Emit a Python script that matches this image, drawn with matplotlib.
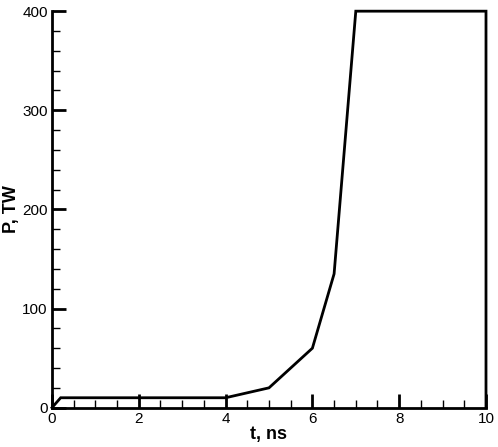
import matplotlib
matplotlib.use('Agg')
import matplotlib.pyplot as plt
from matplotlib.ticker import MultipleLocator

t_ns = [0.0, 0.2, 4.0, 5.0, 6.0, 6.5, 7.0, 10.0, 10.0]
p_tw = [0.0, 10.0, 10.0, 20.0, 60.0, 135.0, 400.0, 400.0, 0.0]

plt.rcParams['font.family'] = ['Liberation Sans', 'DejaVu Sans']

fig = plt.figure(figsize=(4.98, 4.47), dpi=100)
ax = fig.add_axes([0.1044, 0.088, 0.8715, 0.887])

ax.plot(t_ns, p_tw, color='black', linewidth=2, solid_joinstyle='miter', clip_on=False)

ax.set_xlim(0, 10)
ax.set_ylim(0, 400)
ax.xaxis.set_major_locator(MultipleLocator(2))
ax.xaxis.set_minor_locator(MultipleLocator(0.5))
ax.yaxis.set_major_locator(MultipleLocator(100))
ax.yaxis.set_minor_locator(MultipleLocator(20))

for side in ('top', 'right'):
    ax.spines[side].set_visible(False)
for side in ('left', 'bottom'):
    ax.spines[side].set_linewidth(2)

ax.tick_params(which='major', direction='in', length=10, width=2, labelsize=11, pad=3)
ax.tick_params(which='minor', direction='in', length=6, width=1)

ax.set_xlabel('t, ns', fontsize=13, fontweight='bold', labelpad=0)
ax.set_ylabel('P, TW', fontsize=13, fontweight='bold', labelpad=2)

fig.savefig('out.png', dpi=100)
